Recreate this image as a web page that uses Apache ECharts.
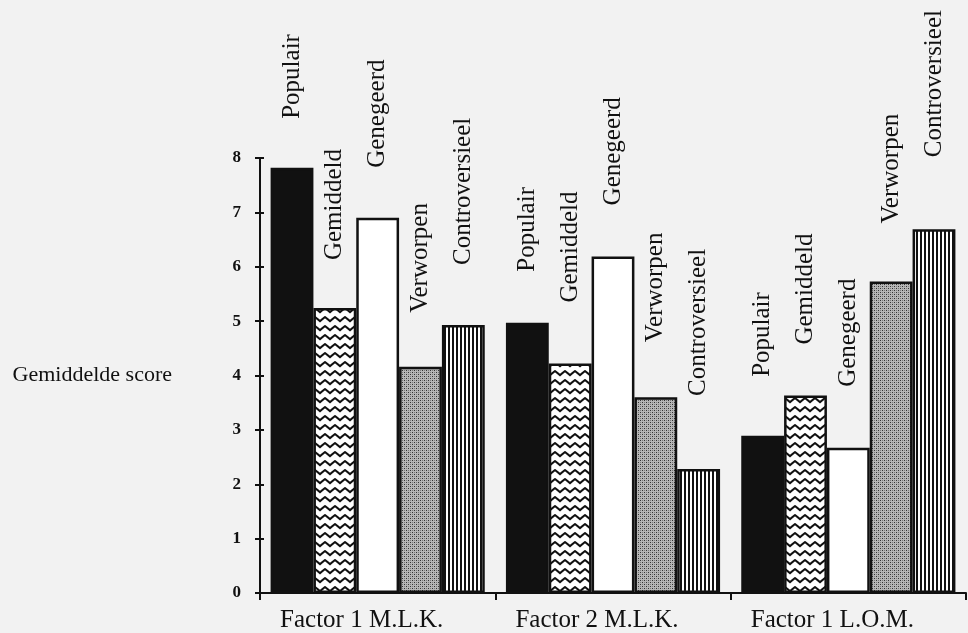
<!DOCTYPE html>
<html><head><meta charset="utf-8">
<script src="https://cdn.jsdelivr.net/npm/echarts@6/dist/echarts.min.js"></script>
<style>html,body{margin:0;padding:0;background:#f2f2f2}#c{width:968px;height:633px}</style>
</head><body><div id="c"></div>
<script>
// ---- data ----
const categories = ['Factor 1 M.L.K.', 'Factor 2 M.L.K.', 'Factor 1 L.O.M.'];
const seriesNames = ['Populair', 'Gemiddeld', 'Genegeerd', 'Verworpen', 'Controversieel'];
const populair = [7.82, 4.97, 2.89];
const gemiddeld = [5.24, 4.22, 3.63];
const genegeerd = [6.90, 6.19, 2.67];
const verworpen = [4.16, 3.60, 5.73];
const controversieel = [4.93, 2.28, 6.69];
const yMin = 0, yMax = 8, yStep = 1;

// label offsets above bars (styling, px)
const labelGaps = {
  Populair: [49, 51, 59],
  Gemiddeld: [48, 61, 51],
  Genegeerd: [50, 51, 61],
  Verworpen: [54, 55, 58],
  Controversieel: [60, 73, 72]
};

// ---- patterns ----
function tile(w, h, draw) {
  const c = document.createElement('canvas');
  c.width = w; c.height = h;
  draw(c.getContext('2d'));
  return c;
}
const zigzag = tile(10, 9, g => {
  g.fillStyle = '#ffffff'; g.fillRect(0, 0, 10, 9);
  g.strokeStyle = '#111'; g.lineWidth = 2; g.lineJoin = 'round';
  g.beginPath(); g.moveTo(-1, 7); g.lineTo(5, 2); g.lineTo(11, 7); g.stroke();
});
const stipple = tile(4, 4, g => {
  g.fillStyle = '#b6b6b6'; g.fillRect(0, 0, 4, 4);
  g.fillStyle = '#333333';
  g.fillRect(0, 0, 1, 1); g.fillRect(2, 2, 1, 1);
  g.fillStyle = '#7a7a7a';
  g.fillRect(2, 0, 1, 1); g.fillRect(0, 2, 1, 1);
});
const stripes = tile(4, 4, g => {
  g.fillStyle = '#ffffff'; g.fillRect(0, 0, 4, 4);
  g.fillStyle = '#111'; g.fillRect(0, 0, 2, 4);
});
const fills = {
  Populair: '#111111',
  Gemiddeld: { image: zigzag, repeat: 'repeat' },
  Genegeerd: '#ffffff',
  Verworpen: { image: stipple, repeat: 'repeat' },
  Controversieel: { image: stripes, repeat: 'repeat' }
};
const values = {
  Populair: populair, Gemiddeld: gemiddeld, Genegeerd: genegeerd,
  Verworpen: verworpen, Controversieel: controversieel
};

const font = 'Liberation Serif';
const ink = '#111';

const series = seriesNames.map(name => ({
  name: name,
  type: 'bar',
  barGap: '0%',
  barCategoryGap: '9%',
  itemStyle: { color: fills[name], borderColor: ink, borderWidth: 2.5 },
  label: {
    show: true,
    position: 'top',
    rotate: 90,
    align: 'left',
    verticalAlign: 'middle',
    formatter: '{a}',
    fontFamily: font,
    fontSize: 25,
    color: ink
  },
  data: values[name].map((v, i) => ({ value: v, label: { distance: labelGaps[name][i] } }))
}));

const chart = echarts.init(document.getElementById('c'), null, { renderer: 'canvas' });
chart.setOption({
  backgroundColor: '#f2f2f2',
  animation: false,
  grid: { left: 260, right: 2, top: 158, bottom: 38 },
  xAxis: {
    type: 'category',
    data: categories,
    axisLine: { show: true, lineStyle: { color: ink, width: 2 } },
    axisTick: { show: true, length: 7, lineStyle: { color: ink, width: 2 } },
    axisLabel: {
      fontFamily: font, fontSize: 25, color: ink, margin: 15,
      padding: [0, 32, 0, 0]
    }
  },
  yAxis: [{
    type: 'value', min: yMin, max: yMax, interval: yStep,
    axisLine: { show: true, lineStyle: { color: ink, width: 2 } },
    axisTick: { show: true, length: 5, lineStyle: { color: ink, width: 2 } },
    axisLabel: { fontFamily: font, fontWeight: 'bold', fontSize: 17, color: ink, margin: 19 },
    splitLine: { show: false },
    name: 'Gemiddelde score',
    nameLocation: 'middle',
    nameRotate: 0,
    nameGap: 88,
    nameTextStyle: { fontFamily: font, fontSize: 22, color: ink }
  }, {
    type: 'value', min: yMin, max: yMax, interval: yStep, position: 'left',
    axisLine: { show: false },
    axisTick: { show: true, inside: true, length: 4, lineStyle: { color: ink, width: 2 } },
    axisLabel: { show: false },
    splitLine: { show: false }
  }],
  series: series
});
</script>
</body></html>
